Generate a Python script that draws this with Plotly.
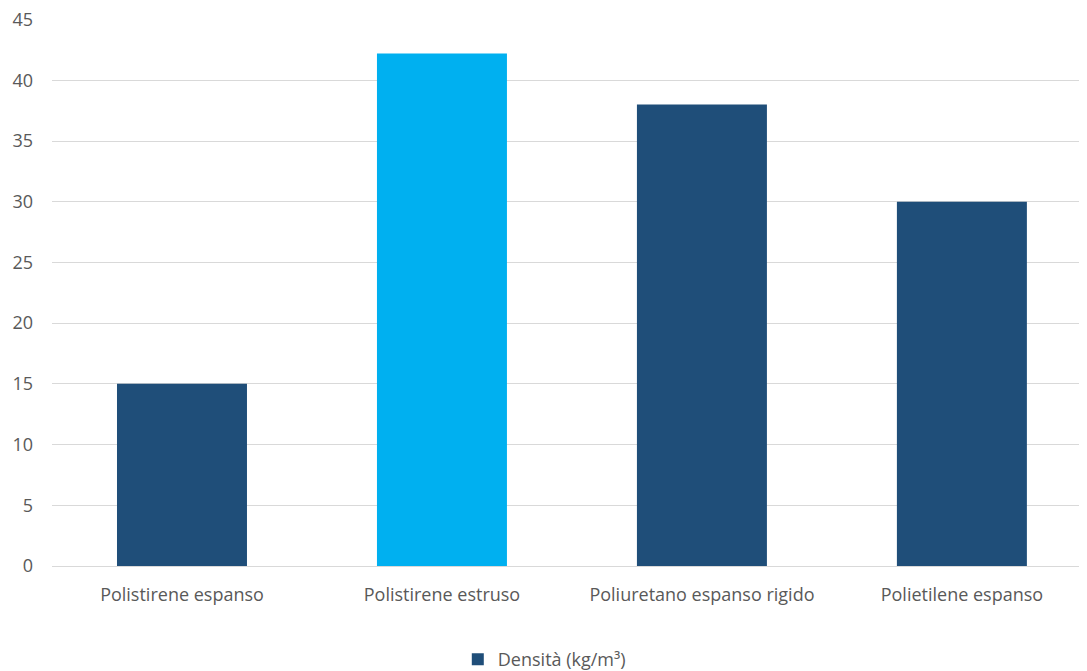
import plotly.graph_objects as go

categories = ["Polistirene espanso", "Polistirene estruso", "Poliuretano espanso rigido", "Polietilene espanso"]
values = [15, 42.2, 38, 30]
bar_colors = ["#1F4E79", "#00B0F0", "#1F4E79", "#1F4E79"]
series_name = "Densità (kg/m³)"
y_ticks = [0, 5, 10, 15, 20, 25, 30, 35, 40, 45]

fig = go.Figure()
fig.add_trace(go.Bar(
    x=categories, y=values, name=series_name,
    marker=dict(color=bar_colors, line=dict(width=0)),
    showlegend=True,
))

fig.update_layout(
    width=1087, height=671,
    margin=dict(l=44, r=0, t=11, b=112.5, autoexpand=False),
    plot_bgcolor="white", paper_bgcolor="white",
    bargap=0.5,
    font=dict(family="Open Sans, Liberation Sans, sans-serif", size=18, color="#595959"),
    showlegend=True,
    legend=dict(orientation="h", x=0.472, xanchor="center", y=-0.171, yanchor="middle",
                itemwidth=30, font=dict(size=18, color="#595959")),
    xaxis=dict(range=[-0.5, 3.512], showgrid=False, showline=False, ticks="", automargin=False,
               ticklabelstandoff=16, tickfont=dict(size=18, color="#595959")),
    yaxis=dict(range=[0, 45.05], tickvals=y_ticks, showgrid=True, gridcolor="#D9D9D9", gridwidth=1,
               zeroline=True, zerolinecolor="#D9D9D9", zerolinewidth=1, showline=False, ticks="",
               automargin=False, ticklabeloverflow="allow", ticklabelstandoff=18,
               tickfont=dict(size=18, color="#595959")),
)

fig.write_html("out.html")
